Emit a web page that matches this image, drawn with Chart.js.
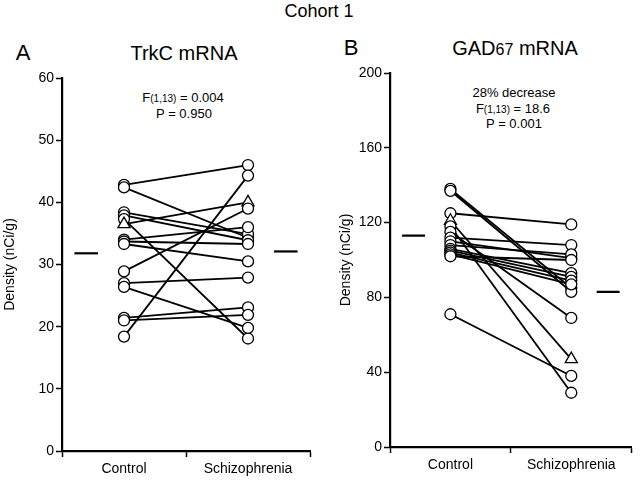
<!DOCTYPE html>
<html>
<head>
<meta charset="utf-8">
<script src="https://cdn.jsdelivr.net/npm/chart.js@4.4.1/dist/chart.umd.min.js"></script>
<style>
  body { margin: 0; background: #fff; font-family: "Liberation Sans", Arial, sans-serif; color: #000; }
  #page { position: relative; width: 640px; height: 480px; overflow: hidden; }
  canvas { position: absolute; }
  .txt { position: absolute; white-space: nowrap; line-height: 1; }
  .c { transform: translate(-50%, -50%); }
  .small { font-size: 10px; }
</style>
</head>
<body>
<div id="page">
  <div class="txt c" style="left:319px; top:11px; font-size:18px;">Cohort 1</div>

  <div class="txt c" style="left:23px; top:53px; font-size:22px;">A</div>
  <div class="txt c" style="left:184px; top:53px; font-size:20px;">TrkC mRNA</div>
  <div class="txt c" style="left:183px; top:97px; font-size:13px;">F<span class="small">(1,13)</span> = 0.004</div>
  <div class="txt c" style="left:184px; top:113px; font-size:13px;">P = 0.950</div>

  <div class="txt c" style="left:351px; top:48px; font-size:22px;">B</div>
  <div class="txt c" style="left:515px; top:48px; font-size:20px;">GAD<span style="font-size:16px;">67</span> mRNA</div>
  <div class="txt c" style="left:514px; top:92px; font-size:13px;">28% decrease</div>
  <div class="txt c" style="left:513px; top:108px; font-size:13px;">F<span class="small">(1,13)</span> = 18.6</div>
  <div class="txt c" style="left:514px; top:123px; font-size:13px;">P = 0.001</div>

  <canvas id="chartA" width="320" height="414" style="left:0px; top:66px;"></canvas>
  <canvas id="chartB" width="304" height="416" style="left:336px; top:60px;"></canvas>
</div>

<script>
const categories = ["Control", "Schizophrenia"];

// Panel A: TrkC mRNA, one entry per subject pair
const trkcControl = [42.8, 42.4, 38.4, 37.9, 37.3, 36.5, 34.0, 33.7, 33.3, 28.9, 27.0, 26.4, 21.4, 21.0, 18.4];
const trkcSchizo  = [46.0, 34.3, 34.9, 33.9, 18.1, 40.0, 36.0, 33.3, 30.5, 39.0, 27.9, 19.8, 23.1, 21.9, 44.3];
const trkcShapes  = ["circle", "circle", "circle", "circle", "circle", "triangle", "circle", "circle",
                     "circle", "circle", "circle", "circle", "circle", "circle", "circle"];
const trkcMeans   = [31.8, 32.1];
const trkcTicks   = [0, 10, 20, 30, 40, 50, 60];

// Panel B: GAD67 mRNA
const gadControl = [138, 137, 125, 121, 118, 115, 112, 110, 108, 106, 105, 104, 103, 102, 71];
const gadSchizo  = [85, 83, 119, 47, 29, 69, 108, 101, 103, 93, 91, 89, 87, 100, 38];
const gadShapes  = ["circle", "circle", "circle", "triangle", "circle", "circle", "circle", "circle",
                    "circle", "circle", "circle", "circle", "circle", "circle", "circle"];
const gadMeans   = [113, 83];
const gadTicks   = [0, 40, 80, 120, 160, 200];

const FONT = "'Liberation Sans', Arial, sans-serif";

function buildPanel(canvasId, control, schizo, shapes, means, yTicks, axisWidth, pad) {
  const xCtrl = 1, xSchz = 3;
  const datasets = [];

  // points on top of lines (lower order draws last)
  datasets.push({
    order: -1,
    data: control.map(v => ({ x: xCtrl, y: v })),
    showLine: false,
    pointStyle: shapes,
    pointRadius: shapes.map(s => s === "triangle" ? 7 : 5.5),
    pointBackgroundColor: "#fff",
    pointBorderColor: "#000",
    pointBorderWidth: 1.3
  });
  datasets.push({
    order: -1,
    data: schizo.map(v => ({ x: xSchz, y: v })),
    showLine: false,
    pointStyle: shapes,
    pointRadius: shapes.map(s => s === "triangle" ? 7 : 5.5),
    pointBackgroundColor: "#fff",
    pointBorderColor: "#000",
    pointBorderWidth: 1.3
  });

  // connecting lines
  control.forEach((c, i) => {
    datasets.push({
      data: [{ x: xCtrl, y: c }, { x: xSchz, y: schizo[i] }],
      showLine: true,
      borderColor: "#000",
      borderWidth: 1.8,
      pointRadius: 0
    });
  });

  // group means
  datasets.push({
    data: [{ x: 0.2, y: means[0] }, { x: 0.58, y: means[0] }],
    showLine: true, borderColor: "#000", borderWidth: 2.2, pointRadius: 0
  });
  datasets.push({
    data: [{ x: 3.42, y: means[1] }, { x: 3.8, y: means[1] }],
    showLine: true, borderColor: "#000", borderWidth: 2.2, pointRadius: 0
  });

  return new Chart(document.getElementById(canvasId), {
    type: "scatter",
    data: { datasets: datasets },
    options: {
      responsive: false,
      animation: false,
      layout: { padding: pad },
      plugins: { legend: { display: false }, tooltip: { enabled: false } },
      scales: {
        x: {
          type: "linear",
          min: 0,
          max: 4,
          afterBuildTicks: s => { s.ticks = [0, 1, 2, 3, 4].map(v => ({ value: v })); },
          afterFit: s => { s.height = 29; },
          ticks: {
            autoSkip: false,
            maxRotation: 0,
            padding: 4,
            color: "#000",
            font: { family: FONT, size: 14 },
            callback: v => v === xCtrl ? categories[0] : (v === xSchz ? categories[1] : "")
          },
          grid: {
            drawOnChartArea: false,
            tickLength: 6,
            tickWidth: 1.5,
            tickColor: ctx => (ctx.tick && (ctx.tick.value === xCtrl || ctx.tick.value === xSchz)) ? "rgba(0,0,0,0)" : "#000"
          },
          border: { color: "#000", width: 2.2 }
        },
        y: {
          min: yTicks[0],
          max: yTicks[yTicks.length - 1],
          afterBuildTicks: s => { s.ticks = yTicks.map(v => ({ value: v })); },
          afterFit: s => { s.width = axisWidth; },
          ticks: { color: "#000", padding: 2, font: { family: FONT, size: 14 } },
          grid: { drawOnChartArea: false, tickLength: 6, tickWidth: 1.5, tickColor: "#000" },
          border: { color: "#000", width: 2.2 },
          title: {
            display: true,
            text: "Density (nCi/g)",
            color: "#000",
            font: { family: FONT, size: 14 },
            padding: { top: 2, bottom: 0 }
          }
        }
      }
    }
  });
}

buildPanel("chartA", trkcControl, trkcSchizo, trkcShapes, trkcMeans, trkcTicks, 62,
  { top: 12, right: 10, left: 0, bottom: 0 });
buildPanel("chartB", gadControl, gadSchizo, gadShapes, gadMeans, gadTicks, 54,
  { top: 13, right: 2, left: 0, bottom: 0 });
</script>
</body>
</html>
